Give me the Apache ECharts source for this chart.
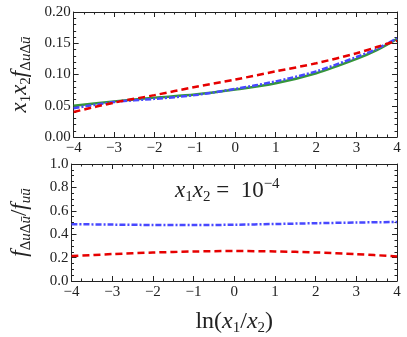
<!DOCTYPE html>
<html><head><meta charset="utf-8">
<script src="https://cdn.jsdelivr.net/npm/echarts@6/dist/echarts.min.js"></script>
<style>html,body{margin:0;padding:0;background:#fff}#c{width:407px;height:337px}</style>
</head><body><div id="c"></div>
<script>
const xs = [-4, -3, -2, -1, 0, 1, 2, 3, 3.5, 4];
const topGreen = [0.050, 0.057, 0.063, 0.068, 0.076, 0.086, 0.102, 0.125, 0.139, 0.157];
const topBlue  = [0.046, 0.056, 0.061, 0.067, 0.077, 0.089, 0.105, 0.128, 0.141, 0.158];
const topRed   = [0.040, 0.055, 0.067, 0.080, 0.092, 0.105, 0.118, 0.134, 0.144, 0.154];
const botX = [-4, -3, -2, -1, 0, 1, 2, 3, 4];
const botBlue = [0.486, 0.482, 0.479, 0.478, 0.481, 0.487, 0.494, 0.500, 0.504];
const botRed  = [0.213, 0.230, 0.243, 0.252, 0.256, 0.253, 0.244, 0.230, 0.210];
const xTicks = [-4, -3, -2, -1, 0, 1, 2, 3, 4];
const topYTicks = ['0.00', '0.05', '0.10', '0.15', '0.20'];
const botYTicks = ['0.0', '0.2', '0.4', '0.6', '0.8', '1.0'];

const FONT = 'Liberation Serif';
const AX = '#222';
const pair = (x, y) => x.map((v, i) => [v, y[i]]);
const minus = v => String(v).replace('-', '\u2212');

function richSet(big, small, lh) {
  return {
    i: {fontFamily: FONT, fontStyle: 'italic', fontSize: big, color: '#222', lineHeight: lh},
    r: {fontFamily: FONT, fontSize: big, color: '#222', lineHeight: lh},
    s: {fontFamily: FONT, fontSize: small, color: '#222', verticalAlign: 'bottom', lineHeight: small},
    si: {fontFamily: FONT, fontStyle: 'italic', fontSize: small, color: '#222', verticalAlign: 'bottom', lineHeight: small}
  };
}
function xAxis(gi, pos, labels, name) {
  return {
    type: 'value', gridIndex: gi, position: pos, min: -4, max: 4, interval: 1,
    axisLine: {show: true, onZero: false, lineStyle: {color: AX, width: 1}},
    axisTick: {show: true, inside: true, length: 5, lineStyle: {color: AX}},
    minorTick: {show: true, splitNumber: 4, length: 2.5, lineStyle: {color: AX}},
    splitLine: {show: false},
    axisLabel: {show: labels, color: '#222', fontFamily: FONT, fontSize: 15, margin: 4, formatter: minus},
    name: name || '', nameLocation: 'middle', nameGap: 27,
    nameTextStyle: name ? {rich: richSet(24, 15, 28)} : {}
  };
}
function yAxis(gi, pos, labels, max, interval, ticks, split, name) {
  return {
    type: 'value', gridIndex: gi, position: pos, min: 0, max: max, interval: interval,
    axisLine: {show: true, onZero: false, lineStyle: {color: AX, width: 1}},
    axisTick: {show: true, inside: true, length: 5, lineStyle: {color: AX}},
    minorTick: {show: true, splitNumber: split, length: 2.5, lineStyle: {color: AX}},
    splitLine: {show: false},
    axisLabel: {show: labels, color: '#222', fontFamily: FONT, fontSize: 15, margin: 3,
      formatter: v => ticks[Math.round(v / interval)]},
    name: name || '', nameLocation: 'middle', nameGap: 38, nameRotate: 90,
    nameTextStyle: name ? {rich: richSet(23, 15, 28)} : {}
  };
}
function line(xi, yi, data, color, type, w) {
  return {type: 'line', xAxisIndex: xi, yAxisIndex: yi, data: data, showSymbol: false,
    smooth: 0.3, lineStyle: {color: color, type: type, width: w}, silent: true, animation: false};
}
const RED = '#e60000', BLUE = '#4848ff', GREEN = '#35963a';
const option = {
  animation: false,
  grid: [
    {left: 58, right: 10, top: 12, height: 125},
    {left: 58, right: 10, top: 164, height: 127}
  ],
  xAxis: [
    xAxis(0, 'bottom', true),
    xAxis(0, 'top', false),
    xAxis(1, 'bottom', true, '{r|ln(}{i|x}{s|1}{r|/}{i|x}{s|2}{r|)}'),
    xAxis(1, 'top', false)
  ],
  yAxis: [
    yAxis(0, 'left', true, 0.2, 0.05, topYTicks, 5, '{i|x}{s|1}{i|x}{s|2}{i|f}{s|\u0394}{si|u}{s|\u0394}{si|\u016b}'),
    yAxis(0, 'right', false, 0.2, 0.05, topYTicks, 5),
    yAxis(1, 'left', true, 1.0, 0.2, botYTicks, 4, '{i|f}{s|\u0394}{si|u}{s|\u0394}{si|\u016b}{r|/}{i|f}{si|u\u016b}'),
    yAxis(1, 'right', false, 1.0, 0.2, botYTicks, 4)
  ],
  graphic: [{
    type: 'text', left: 175, top: 177,
    style: {text: '{i|x}{s|1}{i|x}{s|2}{r| =  10}{p|\u22124}', rich: {
      i: {fontFamily: FONT, fontStyle: 'italic', fontSize: 23, fill: '#222', lineHeight: 28},
      r: {fontFamily: FONT, fontSize: 23, fill: '#222', lineHeight: 28},
      s: {fontFamily: FONT, fontSize: 15, fill: '#222', verticalAlign: 'bottom', lineHeight: 15},
      p: {fontFamily: FONT, fontSize: 15, fill: '#222', verticalAlign: 'top', lineHeight: 14}
    }}
  }],
  series: [
    line(0, 0, pair(xs, topGreen), GREEN, 'solid', 2.5),
    line(0, 0, pair(xs, topBlue), BLUE, [6, 2, 2, 2], 2.5),
    line(0, 0, pair(xs, topRed), RED, [7, 4], 2.5),
    line(2, 2, pair(botX, botBlue), BLUE, [6, 2, 2, 2], 2.5),
    line(2, 2, pair(botX, botRed), RED, [7, 4], 2.5)
  ]
};
echarts.init(document.getElementById('c')).setOption(option);
</script></body></html>
